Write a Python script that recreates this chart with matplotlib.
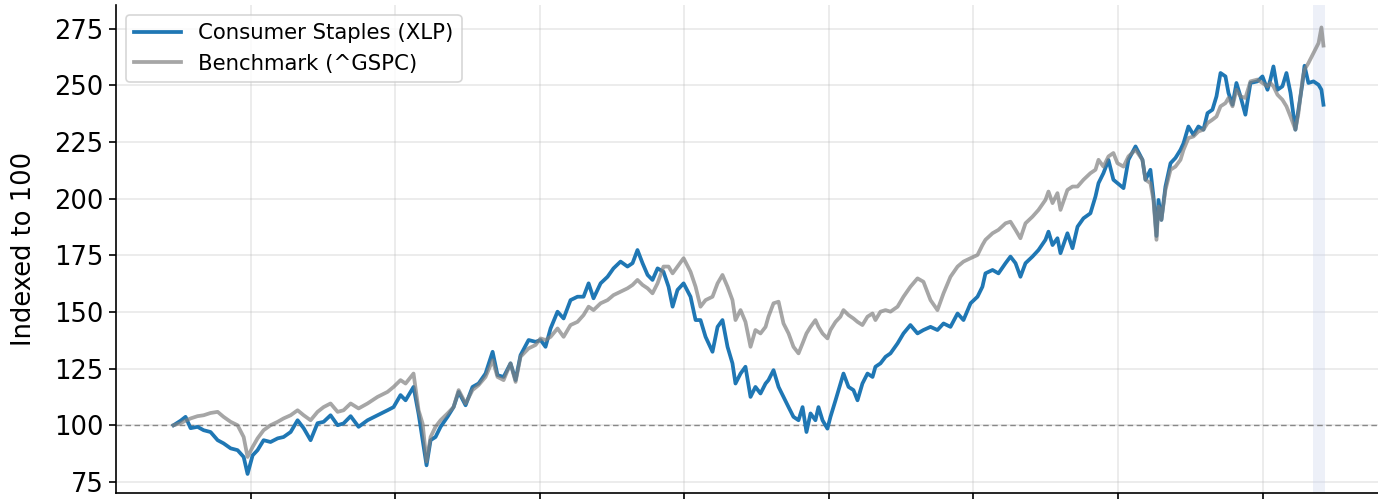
import matplotlib
matplotlib.use("Agg")
import matplotlib.pyplot as plt

# Decimal-year positions of the sampled points
years = [
    2018.467, 2018.516, 2018.550, 2018.585, 2018.633, 2018.675, 2018.723, 2018.772, 2018.813, 2018.862,
    2018.910, 2018.952, 2018.979, 2019.014, 2019.048, 2019.090, 2019.138, 2019.187, 2019.228, 2019.277,
    2019.325, 2019.367, 2019.415, 2019.463, 2019.505, 2019.553, 2019.602, 2019.643,
    2019.692, 2019.747, 2019.809, 2019.878, 2019.947, 2019.989, 2020.037, 2020.072, 2020.127, 2020.162,
    2020.190, 2020.217, 2020.245, 2020.279, 2020.314, 2020.362, 2020.404, 2020.439, 2020.487, 2020.535,
    2020.577, 2020.625, 2020.674, 2020.708, 2020.750, 2020.798, 2020.833, 2020.867, 2020.923, 2020.971,
    2021.006, 2021.040, 2021.075, 2021.123, 2021.165, 2021.213, 2021.261, 2021.303, 2021.338, 2021.372,
    2021.421, 2021.469, 2021.510, 2021.559, 2021.607, 2021.642, 2021.676, 2021.711, 2021.746, 2021.780,
    2021.815, 2021.856, 2021.891, 2021.919, 2021.953, 2021.995, 2022.043, 2022.078, 2022.112, 2022.147,
    2022.195, 2022.230, 2022.264, 2022.299, 2022.333,
    2022.354, 2022.389, 2022.423, 2022.458, 2022.492, 2022.527, 2022.562, 2022.582, 2022.617, 2022.652,
    2022.686, 2022.721, 2022.755, 2022.790, 2022.818, 2022.845, 2022.873, 2022.907, 2022.928, 2022.956,
    2022.990, 2023.011, 2023.046, 2023.080, 2023.101, 2023.136, 2023.170, 2023.198, 2023.232, 2023.267,
    2023.302, 2023.322, 2023.357, 2023.392, 2023.426, 2023.475, 2023.516, 2023.564, 2023.613,
    2023.654, 2023.703, 2023.751, 2023.793, 2023.841, 2023.890, 2023.931, 2023.980, 2024.028, 2024.062,
    2024.083, 2024.132, 2024.173, 2024.222, 2024.256, 2024.291, 2024.325, 2024.360, 2024.408, 2024.450,
    2024.498, 2024.519, 2024.547, 2024.581, 2024.602, 2024.650, 2024.685, 2024.720, 2024.761, 2024.809,
    2024.844, 2024.865, 2024.899, 2024.934, 2024.968,
    2024.996, 2025.038, 2025.072, 2025.121, 2025.169, 2025.190, 2025.224, 2025.245, 2025.266, 2025.280,
    2025.300, 2025.328, 2025.363, 2025.397, 2025.432, 2025.453, 2025.487, 2025.522, 2025.556, 2025.591,
    2025.619, 2025.653, 2025.681, 2025.709, 2025.743, 2025.764, 2025.792, 2025.819, 2025.847, 2025.881,
    2025.916, 2025.964, 2025.999, 2026.034, 2026.054, 2026.075, 2026.103, 2026.137, 2026.165, 2026.193,
    2026.227, 2026.248, 2026.276, 2026.290, 2026.317, 2026.352, 2026.387, 2026.407, 2026.421,
]

xlp = [
    100.0, 102.0, 103.7, 98.7, 99.3, 97.8, 97.0, 93.4, 92.0, 89.8,
    89.0, 86.0, 78.5, 86.7, 89.0, 93.4, 92.6, 94.2, 94.8, 97.0,
    102.2, 98.7, 93.4, 100.9, 101.5, 104.4, 100.0, 100.8,
    104.0, 99.3, 102.2, 104.4, 106.6, 108.0, 113.3, 111.0, 116.9, 105.0,
    93.4, 82.3, 93.4, 94.8, 99.3, 103.7, 108.0, 114.7, 108.8, 116.9,
    118.4, 122.8, 132.4, 122.1, 121.3, 127.3, 119.9, 130.9, 137.6, 136.8,
    137.6, 134.6, 142.7, 150.1, 147.1, 155.2, 156.7, 156.7, 162.6, 156.0,
    162.6, 165.5, 169.2, 172.2, 170.0, 171.5, 177.3, 171.5, 166.3, 164.1,
    169.2, 167.7, 161.1, 152.3, 159.7, 162.6, 156.7, 146.4, 146.4, 139.0,
    132.4, 143.4, 146.4, 134.6, 127.3,
    118.4, 122.8, 125.8, 112.5, 116.9, 114.0, 118.4, 119.9, 124.3, 116.9,
    112.5, 108.0, 103.7, 102.2, 108.0, 97.0, 105.2, 102.2, 108.0, 102.2,
    98.5, 103.7, 111.0, 118.4, 122.8, 116.9, 115.5, 111.0, 118.4, 122.8,
    121.3, 125.8, 127.3, 130.2, 131.7, 136.1, 140.5, 144.2, 140.5,
    142.0, 143.4, 142.0, 144.9, 143.4, 149.3, 146.4, 153.8, 156.7, 161.1,
    167.0, 168.5, 167.0, 171.5, 174.4, 171.5, 165.5, 171.5, 174.4, 177.3,
    181.8, 185.4, 179.5, 182.5, 175.9, 184.7, 178.1, 187.6, 191.3, 193.5,
    200.9, 206.8, 211.2, 217.0, 208.3,
    206.8, 204.6, 217.1, 223.0, 217.1, 208.3, 212.7, 200.9, 183.5, 199.4,
    190.6, 205.3, 215.6, 217.9, 221.5, 224.4, 231.8, 228.1, 231.8, 230.4,
    237.7, 239.2, 245.1, 255.4, 253.9, 246.6, 241.4, 251.0, 245.1, 237.0,
    251.0, 251.7, 253.9, 248.0, 252.5, 258.3, 248.0, 249.5, 255.4, 246.6,
    230.4, 239.2, 251.0, 258.6, 251.0, 251.7, 250.2, 248.0, 241.4,
]

gspc = [
    100.0, 100.9, 102.0, 103.0, 104.0, 104.4, 105.4, 105.9, 103.7, 101.5,
    100.0, 94.8, 86.0, 90.4, 94.2, 97.8, 100.0, 101.5, 103.0, 104.4,
    106.6, 104.4, 102.2, 105.9, 108.0, 109.6, 105.9, 106.6,
    109.6, 107.4, 109.6, 112.5, 114.7, 116.9, 119.9, 118.4, 122.8, 106.6,
    100.7, 84.0, 94.8, 99.3, 102.2, 105.2, 108.0, 115.5, 109.6, 115.5,
    117.7, 121.3, 128.7, 121.3, 119.9, 127.3, 119.1, 130.2, 133.9, 135.4,
    138.3, 137.6, 139.0, 142.7, 139.0, 144.2, 145.6, 148.6, 152.3, 150.8,
    153.8, 155.2, 157.4, 158.9, 160.4, 161.9, 164.1, 161.9, 160.4, 158.2,
    162.6, 170.0, 170.0, 167.0, 170.0, 173.7, 167.7, 161.1, 152.3, 155.2,
    156.7, 162.6, 166.3, 161.1, 155.2,
    146.4, 150.8, 145.6, 134.6, 142.0, 140.5, 143.4, 147.9, 153.8, 154.5,
    144.9, 140.5, 134.6, 131.7, 136.1, 140.5, 143.4, 146.4, 143.4, 140.5,
    138.3, 142.0, 145.6, 147.9, 150.8, 148.6, 147.1, 145.6, 144.2, 147.9,
    149.3, 146.4, 150.1, 150.8, 150.1, 152.3, 156.7, 161.1, 164.8,
    163.3, 155.2, 150.8, 158.2, 165.5, 170.0, 172.2, 173.7, 175.1, 179.5,
    181.8, 184.7, 186.2, 189.1, 189.8, 186.2, 182.5, 189.1, 192.0, 195.0,
    199.4, 203.1, 198.0, 202.4, 195.0, 203.8, 205.3, 205.3, 208.3, 211.2,
    212.7, 217.1, 214.1, 218.6, 220.1,
    215.6, 214.1, 218.6, 221.5, 217.1, 208.3, 206.8, 199.4, 181.8, 196.5,
    190.6, 203.8, 212.7, 214.1, 217.1, 221.5, 226.7, 227.4, 229.6, 230.4,
    233.3, 234.8, 236.2, 240.7, 242.1, 244.4, 240.7, 248.0, 245.1, 244.4,
    251.7, 252.5, 251.0, 249.5, 251.0, 249.5, 245.8, 243.6, 240.7, 236.2,
    230.4, 237.7, 252.5, 256.9, 259.8, 264.2, 268.6, 275.5, 267.5,
]

series_labels = ["Consumer Staples (XLP)", "Benchmark (^GSPC)"]
year_ticks = [2019, 2020, 2021, 2022, 2023, 2024, 2025, 2026]
y_ticks = [75, 100, 125, 150, 175, 200, 225, 250, 275]
highlight_span = (2026.352, 2026.435)
baseline = 100

fig = plt.figure(figsize=(13.78, 4.99), dpi=100)
ax = fig.add_axes([116 / 1378, 6 / 499, 1265 / 1378, 488 / 499])

ax.axvspan(*highlight_span, color="#c9d3ec", alpha=0.32, lw=0, zorder=1)
ax.axhline(baseline, color="#888888", lw=1.0, ls=(0, (4, 2.5)), zorder=2)
ax.plot(years, xlp, color="#1f77b4", lw=2.7, label=series_labels[0], zorder=3,
        solid_joinstyle="round")
ax.plot(years, gspc, color="#808080", alpha=0.7, lw=2.7, label=series_labels[1], zorder=4,
        solid_joinstyle="round")

ax.set_xlim(2018.069, 2026.819)
ax.set_ylim(70.1, 285.4)
ax.set_xticks(year_ticks)
ax.set_yticks(y_ticks)
ax.tick_params(axis="x", labelbottom=False, length=5, width=1.2)
ax.tick_params(axis="y", labelsize=18.5, length=5, width=1.2, pad=4)
ax.grid(True, color="#b0b0b0", alpha=0.3, lw=1.1)
ax.set_axisbelow(True)
for s in ("top", "right"):
    ax.spines[s].set_visible(False)
for s in ("left", "bottom"):
    ax.spines[s].set_linewidth(1.2)
ax.set_ylabel("Indexed to 100", fontsize=18.5, labelpad=12)

leg = ax.legend(loc="upper left", fontsize=15.3, frameon=True, handlelength=2.2,
                borderaxespad=0.45, fancybox=True)
leg.get_frame().set_edgecolor("#cccccc")
leg.get_frame().set_linewidth(1.2)

fig.savefig("out.png", dpi=100)
